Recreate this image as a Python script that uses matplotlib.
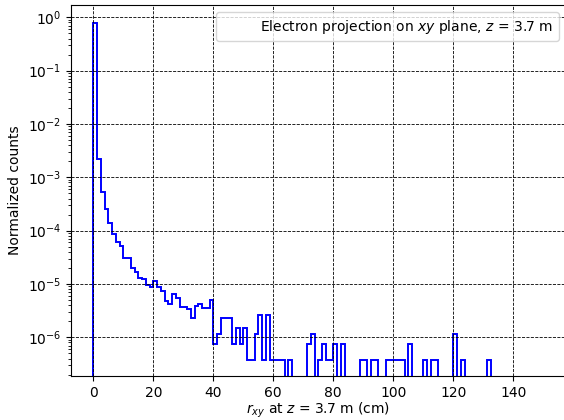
import numpy as np
import matplotlib
matplotlib.use("Agg")
import matplotlib.pyplot as plt

# histogram binning: 120 bins of 1.25 cm from 0 to 150 cm
r_min, r_max, n_bins = 0.0, 150.0, 120

# normalized counts per bin (r_xy at z = 3.7 m)
counts_head = [
    0.79, 2.24e-3, 5.4e-4, 2.56e-4, 1.41e-4, 8.7e-5, 6.2e-5, 5.2e-5,
    3.1e-5, 3.1e-5, 2.0e-5, 1.7e-5, 1.28e-5, 1.23e-5, 9.6e-6, 8.9e-6,
    1.16e-5, 8.8e-6, 7.3e-6, 4.7e-6, 4.2e-6, 6.5e-6, 5.4e-6, 3.7e-6,
    3.7e-6, 3.4e-6, 2.3e-6, 3.9e-6, 4.2e-6, 3.5e-6, 3.5e-6, 5.0e-6,
]
counts_tail = [
    7.6e-7, 1.14e-6, 2.28e-6, 2.28e-6, 2.28e-6, 7.6e-7, 1.52e-6, 7.6e-7,
    1.52e-6, 3.8e-7, 3.8e-7, 1.14e-6, 2.66e-6, 3.8e-7, 2.66e-6, 3.8e-7,
    3.8e-7, 3.8e-7, 3.8e-7, 0.0, 3.8e-7, 0.0, 0.0, 0.0,
    0.0, 7.6e-7, 1.14e-6, 0.0, 3.8e-7, 7.6e-7, 3.8e-7, 3.8e-7,
    7.6e-7, 0.0, 7.6e-7, 0.0, 0.0, 0.0, 0.0, 3.8e-7,
    3.8e-7, 0.0, 3.8e-7, 3.8e-7, 0.0, 0.0, 3.8e-7, 3.8e-7,
    3.8e-7, 3.8e-7, 3.8e-7, 0.0, 7.6e-7, 0.0, 0.0, 0.0,
    3.8e-7, 0.0, 3.8e-7, 3.8e-7, 0.0, 0.0, 0.0, 0.0,
    1.14e-6, 0.0, 3.8e-7, 0.0, 0.0, 0.0, 0.0, 0.0,
    0.0, 3.8e-7, 0.0, 0.0, 0.0, 0.0, 0.0, 0.0,
    0.0, 0.0, 0.0, 0.0, 0.0, 0.0, 0.0, 0.0,
]

x_ticks = [0, 20, 40, 60, 80, 100, 120, 140]
y_ticks = [1e-6, 1e-5, 1e-4, 1e-3, 1e-2, 1e-1, 1e0]

legend_text = r"Electron projection on $xy$ plane, $z$ = 3.7 m"
x_label = r"$r_{xy}$ at $z$ = 3.7 m (cm)"
y_label = "Normalized counts"

values = np.array(counts_head + counts_tail)
edges = np.linspace(r_min, r_max, n_bins + 1)

fig = plt.figure(figsize=(5.64, 4.20), dpi=100)
ax = fig.add_axes([70.8 / 564, 1 - 376 / 420, 495 / 564, 371 / 420])

ax.stairs(values, edges, color="blue", linewidth=1.4)
ax.plot([], [], " ", label=legend_text)

ax.set_yscale("log")
ax.set_xlim(-7.5, 157.5)
ax.set_ylim(1.88e-7, 1.70)
ax.set_xticks(x_ticks)
ax.set_yticks(y_ticks)

ax.grid(True, which="major", linestyle="--", color="k", linewidth=0.6)
ax.set_xlabel(x_label, labelpad=1)
ax.set_ylabel(y_label)
ax.legend(loc="upper right")

fig.savefig("out.png", dpi=100)
